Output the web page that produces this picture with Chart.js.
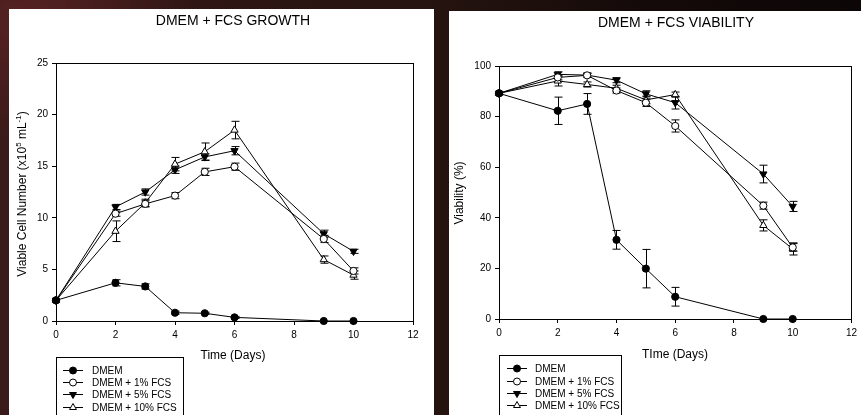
<!DOCTYPE html>
<html>
<head>
<meta charset="utf-8">
<script src="https://cdn.jsdelivr.net/npm/chart.js@4.4.1/dist/chart.umd.min.js"></script>
<style>
  html, body { margin:0; padding:0; }
  body {
    width:861px; height:415px; overflow:hidden; position:relative;
    background:
      radial-gradient(ellipse 160px 120px at 30px 20px, rgba(110,40,40,0.55), rgba(0,0,0,0) 100%),
      linear-gradient(90deg, #3a1a1a 0%, #2c1513 30%, #24130f 52%, #140a09 75%, #0c0606 100%);
  }
  .panel { position:absolute; background:#fff; overflow:hidden; }
  #p1 { left:9px; top:9px; width:425px; height:406px; }
  #p2 { left:449px; top:11px; width:412px; height:404px; }
  canvas { display:block; }
</style>
</head>
<body>
<div class="panel" id="p1"><canvas id="c1" width="425" height="406"></canvas></div>
<div class="panel" id="p2"><canvas id="c2" width="412" height="404"></canvas></div>
<script>
// ---- data ----
const days = [0, 2, 3, 4, 5, 6, 9, 10];
const seriesNames = ["DMEM", "DMEM + 1% FCS", "DMEM + 5% FCS", "DMEM + 10% FCS"];

const growthDMEM   = [2.0, 3.7, 3.35, 0.8, 0.75, 0.35, 0, 0];
const growthFCS1   = [2.0, 10.4, 11.35, 12.15, 14.45, 14.95, 7.95, 4.85];
const growthFCS5   = [2.0, 11.05, 12.5, 14.65, 15.9, 16.5, 8.45, 6.75];
const growthFCS10  = [2.0, 8.7, 11.45, 15.2, 16.4, 18.5, 5.95, 4.45];
const growthErrDMEM  = [0, 0.3, 0.25, 0.15, 0.1, 0.1, 0, 0];
const growthErrFCS1  = [0, 0.25, 0.3, 0.3, 0.35, 0.35, 0.35, 0.3];
const growthErrFCS5  = [0, 0.25, 0.3, 0.35, 0.3, 0.4, 0.35, 0.2];
const growthErrFCS10 = [0, 1.0, 0.35, 0.65, 0.85, 0.85, 0.35, 0.4];

const viabDMEM   = [89.2, 82.3, 85.0, 31.3, 19.9, 8.8, 0, 0];
const viabFCS1   = [89.2, 95.5, 96.3, 90.3, 85.5, 76.3, 44.8, 28.3];
const viabFCS5   = [89.2, 96.7, 96.4, 94.4, 89.0, 85.5, 57.3, 44.5];
const viabFCS10  = [89.2, 94.1, 92.7, 91.2, 86.6, 88.7, 37.0, 27.7];
const viabErrDMEM  = [0, 5.4, 4.1, 3.7, 7.6, 3.7, 0, 0];
const viabErrFCS1  = [0, 1.0, 0.8, 1.0, 1.5, 2.4, 1.4, 1.5];
const viabErrFCS5  = [0, 1.0, 0.8, 1.0, 1.2, 2.5, 3.5, 2.0];
const viabErrFCS10 = [0, 2.0, 1.0, 1.2, 1.5, 1.0, 2.2, 2.4];

const xTicks = [0, 2, 4, 6, 8, 10, 12];

// ---- styles ----
const FONT = '"Liberation Sans", Arial, sans-serif';
const markerStyles = [
  { pointStyle: 'circle',   rotation: 0,   fill: '#000' },
  { pointStyle: 'circle',   rotation: 0,   fill: '#fff' },
  { pointStyle: 'triangle', rotation: 180, fill: '#000' },
  { pointStyle: 'triangle', rotation: 0,   fill: '#fff' }
];

function makeDatasets(vals, errs) {
  return vals.map((v, i) => ({
    label: seriesNames[i],
    data: days.map((d, k) => ({ x: d, y: v[k] })),
    errs: errs[i],
    borderColor: '#000',
    borderWidth: 1,
    pointStyle: markerStyles[i].pointStyle,
    rotation: markerStyles[i].rotation,
    pointBackgroundColor: markerStyles[i].fill,
    pointBorderColor: '#000',
    pointBorderWidth: 1,
    pointRadius: markerStyles[i].pointStyle === 'triangle' ? 4.2 : 3.6,
    pointHoverRadius: 4,
    tension: 0,
    fill: false,
    clip: false
  }));
}

const errorBarPlugin = {
  id: 'errbars',
  beforeDatasetsDraw(chart) {
    const ctx = chart.ctx, xs = chart.scales.x, ys = chart.scales.y;
    ctx.save();
    ctx.strokeStyle = '#000';
    ctx.lineWidth = 1;
    chart.data.datasets.forEach(ds => {
      ds.data.forEach((p, k) => {
        const e = ds.errs[k];
        if (!e) return;
        const px = Math.round(xs.getPixelForValue(p.x)) + 0.5;
        const y1 = ys.getPixelForValue(p.y - e);
        const y2 = ys.getPixelForValue(p.y + e);
        ctx.beginPath();
        ctx.moveTo(px, y1); ctx.lineTo(px, y2);
        ctx.moveTo(px - 4, y1); ctx.lineTo(px + 4, y1);
        ctx.moveTo(px - 4, y2); ctx.lineTo(px + 4, y2);
        ctx.stroke();
      });
    });
    ctx.restore();
  }
};

function drawMarker(ctx, i, x, y) {
  const st = markerStyles[i];
  ctx.save();
  ctx.fillStyle = st.fill;
  ctx.strokeStyle = '#000';
  ctx.lineWidth = 1;
  Chart.helpers.drawPoint(ctx, {
    pointStyle: st.pointStyle,
    rotation: st.rotation,
    radius: st.pointStyle === 'triangle' ? 4 : 3.5,
    borderWidth: 1
  }, x, y);
  ctx.restore();
}

function decorPlugin(opts) {
  return {
    id: 'decor',
    afterDraw(chart) {
      const ctx = chart.ctx, a = chart.chartArea;
      ctx.save();
      // frame
      ctx.strokeStyle = '#000';
      ctx.lineWidth = 1;
      ctx.strokeRect(Math.round(a.left) + 0.5, Math.round(a.top) + 0.5,
                     Math.round(a.right - a.left), Math.round(a.bottom - a.top));
      ctx.fillStyle = '#000';
      // title
      ctx.font = '14px ' + FONT;
      ctx.textAlign = 'center';
      ctx.textBaseline = 'middle';
      ctx.fillText(opts.title, opts.titleX, opts.titleY);
      // x title
      ctx.font = '12px ' + FONT;
      ctx.fillText(opts.xTitle, opts.xTitleX, opts.xTitleY);
      // y title (rotated, with optional superscripts)
      ctx.save();
      ctx.translate(opts.yTitleX, opts.yTitleY);
      ctx.rotate(-Math.PI / 2);
      let total = 0;
      opts.yTitleParts.forEach(p => {
        ctx.font = (p.sup ? '8px ' : '12px ') + FONT;
        p.w = ctx.measureText(p.t).width;
        total += p.w;
      });
      let cx = -total / 2;
      ctx.textAlign = 'left';
      opts.yTitleParts.forEach(p => {
        ctx.font = (p.sup ? '8px ' : '12px ') + FONT;
        ctx.fillText(p.t, cx, p.sup ? -4 : 0);
        cx += p.w;
      });
      ctx.restore();
      // legend
      const L = opts.legend;
      ctx.strokeRect(L.left + 0.5, L.top + 0.5, L.right - L.left, 200);
      ctx.font = '10px ' + FONT;
      ctx.textAlign = 'left';
      ctx.textBaseline = 'middle';
      seriesNames.forEach((name, i) => {
        const y = L.rows[i];
        ctx.beginPath();
        ctx.moveTo(L.lx1, y + 0.5); ctx.lineTo(L.lx2, y + 0.5);
        ctx.stroke();
        drawMarker(ctx, i, (L.lx1 + L.lx2) / 2, y + 0.5);
        ctx.fillStyle = '#000';
        ctx.fillText(name, L.tx, y + 1);
      });
      ctx.restore();
    }
  };
}

function makeChart(canvasId, vals, errs, yMax, yStep, geom, decor) {
  const W = geom.W, H = geom.H;
  return new Chart(document.getElementById(canvasId), {
    type: 'line',
    data: { datasets: makeDatasets(vals, errs) },
    options: {
      responsive: false,
      animation: false,
      events: [],
      layout: { padding: { left: 0, top: geom.top, right: W - geom.right, bottom: 0 } },
      plugins: { legend: { display: false }, title: { display: false }, tooltip: { enabled: false } },
      scales: {
        x: {
          type: 'linear', min: 0, max: 12,
          afterBuildTicks: s => { s.ticks = xTicks.map(v => ({ value: v })); },
          afterFit: s => { s.height = H - geom.bottom; },
          grid: { display: true, drawOnChartArea: false, drawTicks: true, tickLength: 4, color: '#000', lineWidth: 1 },
          border: { display: true, color: '#000', width: 1 },
          ticks: { color: '#000', font: { family: FONT, size: 10 }, padding: 4, maxRotation: 0, autoSkip: false }
        },
        y: {
          type: 'linear', min: 0, max: yMax,
          ticks: { stepSize: yStep, color: '#000', font: { family: FONT, size: 10 }, padding: 4 },
          afterFit: s => { s.width = geom.left; },
          grid: { display: true, drawOnChartArea: false, drawTicks: true, tickLength: 4, color: '#000', lineWidth: 1 },
          border: { display: true, color: '#000', width: 1 }
        }
      }
    },
    plugins: [errorBarPlugin, decorPlugin(decor)]
  });
}

makeChart('c1',
  [growthDMEM, growthFCS1, growthFCS5, growthFCS10],
  [growthErrDMEM, growthErrFCS1, growthErrFCS5, growthErrFCS10],
  25, 5,
  { W: 425, H: 406, left: 47, right: 404, top: 54, bottom: 312 },
  {
    title: 'DMEM + FCS GROWTH', titleX: 224, titleY: 12,
    xTitle: 'Time (Days)', xTitleX: 224, xTitleY: 347,
    yTitleX: 14, yTitleY: 185,
    yTitleParts: [{ t: 'Viable Cell Number (x10' }, { t: '5', sup: true }, { t: ' mL' }, { t: '-1', sup: true }, { t: ')' }],
    legend: { left: 47, top: 348, right: 174, rows: [361, 373, 385, 398], lx1: 54, lx2: 74, tx: 83 }
  }
);

makeChart('c2',
  [viabDMEM, viabFCS1, viabFCS5, viabFCS10],
  [viabErrDMEM, viabErrFCS1, viabErrFCS5, viabErrFCS10],
  100, 20,
  { W: 412, H: 404, left: 50, right: 404, top: 55, bottom: 308 },
  {
    title: 'DMEM + FCS VIABILITY', titleX: 227, titleY: 12,
    xTitle: 'TIme (Days)', xTitleX: 226, xTitleY: 344,
    yTitleX: 11, yTitleY: 182,
    yTitleParts: [{ t: 'Viability (%)' }],
    legend: { left: 50, top: 344, right: 172, rows: [357, 370, 382, 394], lx1: 58, lx2: 78, tx: 86 }
  }
);
</script>
</body>
</html>
